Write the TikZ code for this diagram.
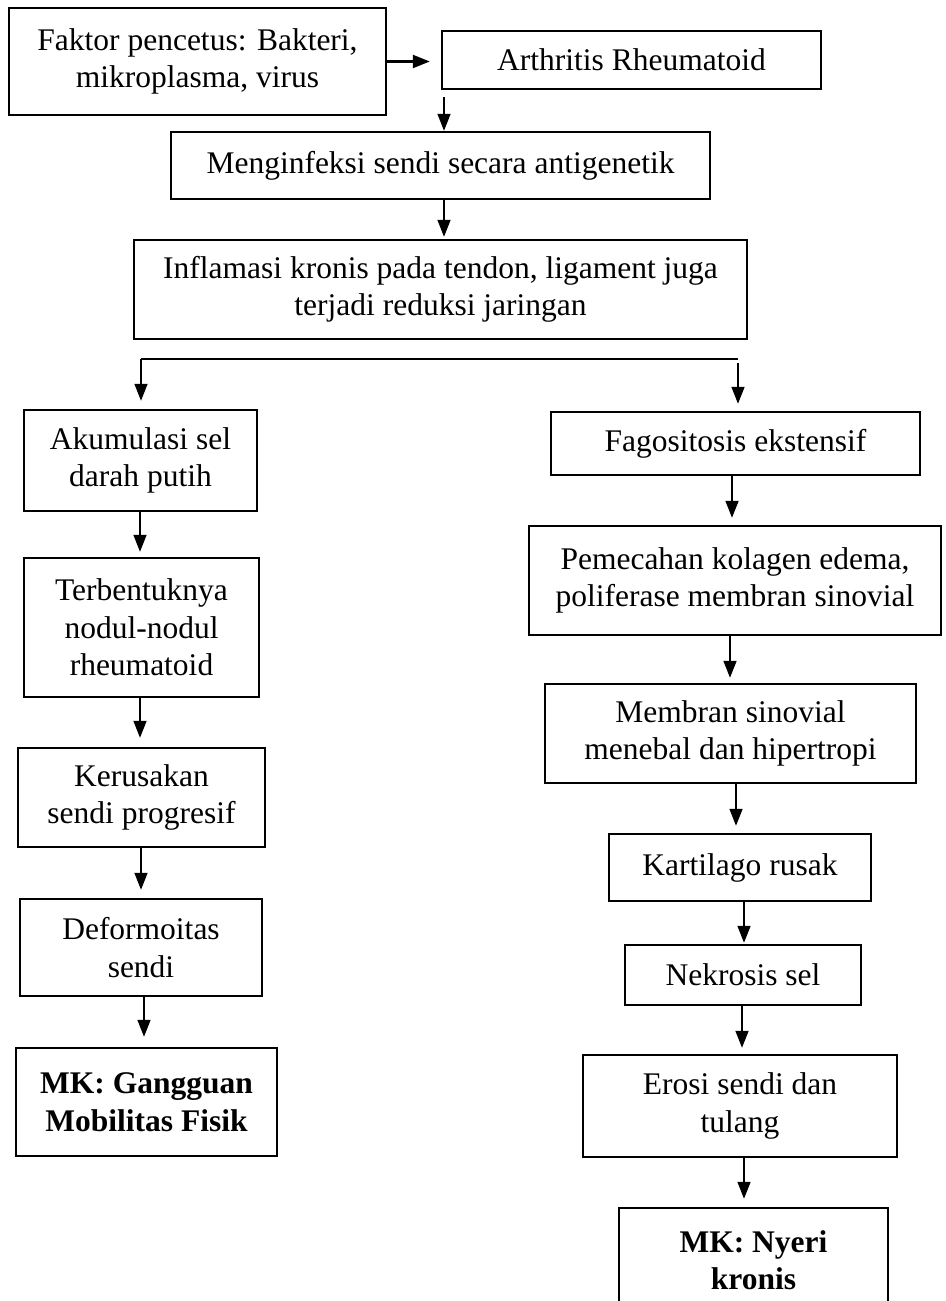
\documentclass[tikz,border=0pt]{standalone}
\usepackage{fontspec}
\setmainfont{Liberation Serif}
\usetikzlibrary{arrows.meta}
\begin{document}
\begin{tikzpicture}[x=1pt,y=-1pt,
  box/.style={draw, line width=2.5pt, align=center, inner sep=0pt, font=\fontsize{31.5}{37.5}\selectfont},
  arr/.style={line width=1.7pt, -{Triangle[length=17pt,width=13pt]}},
  plain/.style={line width=1.3pt}]
\useasboundingbox (0,0) rectangle (945,1301);
\clip (0,0) rectangle (945,1301);
% top
\node[box, minimum width=377pt, minimum height=107pt] (b1) at (197.5,61.5) {Faktor pencetus: Bakteri,\\ mikroplasma, virus};
\node[box, minimum width=379pt, minimum height=58pt] (b2) at (631.5,60) {Arthritis Rheumatoid};
\node[box, minimum width=539pt, minimum height=67pt] (b3) at (440.5,165.5) {Menginfeksi sendi secara antigenetik};
\node[box, minimum width=613pt, minimum height=99pt] (b4) at (440.5,289.5) {Inflamasi kronis pada tendon, ligament juga\\ terjadi reduksi jaringan};
% left column
\node[box, minimum width=233pt, minimum height=101pt] (L1) at (140.5,460.5) {Akumulasi sel\\ darah putih};
\node[box, minimum width=235pt, minimum height=139pt] (L2) at (141.5,627.5) {Terbentuknya\\ nodul-nodul\\ rheumatoid};
\node[box, minimum width=247pt, minimum height=99pt] (L3) at (141.5,797.5) {Kerusakan\\ sendi progresif};
\node[box, minimum width=242pt, minimum height=97pt] (L4) at (141,947.5) {Deformoitas\\ sendi};
\node[box, minimum width=261pt, minimum height=108pt] (L5) at (146.5,1102) {\textbf{MK: Gangguan}\\ \textbf{Mobilitas Fisik}};
% right column
\node[box, minimum width=369pt, minimum height=63pt] (R1) at (735.5,443.5) {Fagositosis ekstensif};
\node[box, minimum width=412pt, minimum height=109pt] (R2) at (735,580.5) {Pemecahan kolagen edema,\\ poliferase membran sinovial};
\node[box, minimum width=371pt, minimum height=99pt] (R3) at (730.5,733.5) {Membran sinovial\\ menebal dan hipertropi};
\node[box, minimum width=262pt, minimum height=67pt] (R4) at (740,867.5) {Kartilago rusak};
\node[box, minimum width=236pt, minimum height=60pt] (R5) at (743,975) {Nekrosis sel};
\node[box, minimum width=314pt, minimum height=102pt] (R6) at (740,1106) {Erosi sendi dan\\ tulang};
\node[box, minimum width=269pt, minimum height=104pt] (R7) at (753.5,1260) {\textbf{MK: Nyeri}\\ \textbf{kronis}};
% connectors top
\draw[arr, line width=2.4pt, shorten >=11pt] (b1.east) -- (b1.east -| b2.west);
\draw[arr, shorten <=7pt] ([xshift=3.5pt]b3.north |- b2.south) -- ([xshift=3.5pt]b3.north);
\draw[arr, shorten >=2pt] ([xshift=3.5pt]b4.north |- b3.south) -- ([xshift=3.5pt]b4.north);
% split
\coordinate (sl) at (141,359);
\coordinate (sr) at (738,359);
\draw[plain] (sl) -- (sr);
\draw[arr, shorten >=8pt] (sl) -- (sl |- L1.north);
\draw[arr, shorten <=4pt, shorten >=7pt] (sr) -- (sr |- R1.north);
% left chain
\draw[arr, shorten >=5pt] ([xshift=-0.5pt]L1.south) -- ([xshift=-0.5pt]L1.south |- L2.north);
\draw[arr, shorten >=9pt] ([xshift=-1.5pt]L2.south) -- ([xshift=-1.5pt]L2.south |- L3.north);
\draw[arr, shorten >=8pt] ([xshift=-0.5pt]L3.south) -- ([xshift=-0.5pt]L3.south |- L4.north);
\draw[arr, shorten >=10pt] ([xshift=3pt]L4.south) -- ([xshift=3pt]L4.south |- L5.north);
% right chain
\draw[arr, shorten >=7pt] ([xshift=-3.5pt]R1.south) -- ([xshift=-3.5pt]R1.south |- R2.north);
\draw[arr, shorten >=5pt] ([xshift=-5pt]R2.south) -- ([xshift=-5pt]R2.south |- R3.north);
\draw[arr, shorten >=7pt] ([xshift=5.5pt]R3.south) -- ([xshift=5.5pt]R3.south |- R4.north);
\draw[arr, shorten >=1pt] ([xshift=4pt]R4.south) -- ([xshift=4pt]R4.south |- R5.north);
\draw[arr, shorten >=6pt] ([xshift=-1pt]R5.south) -- ([xshift=-1pt]R5.south |- R6.north);
\draw[arr, shorten >=8pt] ([xshift=4pt]R6.south) -- ([xshift=4pt]R6.south |- R7.north);
\end{tikzpicture}
\end{document}
